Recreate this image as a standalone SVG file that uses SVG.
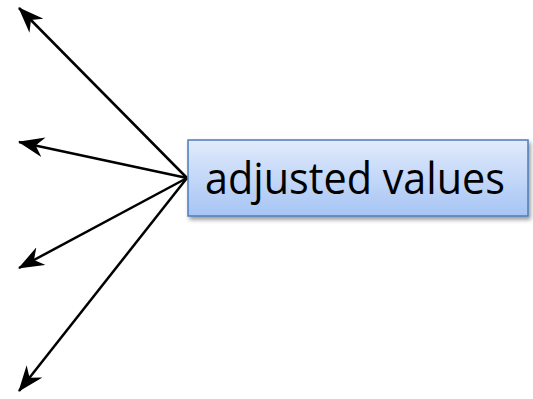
<svg xmlns="http://www.w3.org/2000/svg" width="533" height="399" viewBox="0 0 533 399">
<defs>
<linearGradient id="g" x1="0" y1="0" x2="0" y2="1">
<stop offset="0" stop-color="#e1ebfc"/>
<stop offset="1" stop-color="#a6c4f4"/>
</linearGradient>
<filter id="sh" x="-10%" y="-10%" width="130%" height="140%">
<feGaussianBlur in="SourceAlpha" stdDeviation="2"/>
<feOffset dx="2" dy="3"/>
<feComponentTransfer><feFuncA type="linear" slope="0.4"/></feComponentTransfer>
<feMerge><feMergeNode/><feMergeNode in="SourceGraphic"/></feMerge>
</filter>
<marker id="ah" viewBox="0 0 26 20" refX="25" refY="10" markerWidth="26" markerHeight="20" markerUnits="userSpaceOnUse" orient="auto">
<path d="M0,0 L26,10 L0,20 L8,10 z" fill="#000"/>
</marker>
</defs>
<style>
.c{stroke:#000;stroke-width:2.5;fill:none}
</style>
<g id="connectors">
<line class="c" x1="187" y1="178" x2="19" y2="8" marker-end="url(#ah)"/>
<line class="c" x1="187" y1="178" x2="19" y2="142" marker-end="url(#ah)"/>
<line class="c" x1="187" y1="178" x2="19" y2="268" marker-end="url(#ah)"/>
<line class="c" x1="187" y1="178" x2="19" y2="391" marker-end="url(#ah)"/>
</g>
<g id="node">
<rect x="188" y="140" width="340" height="76" fill="url(#g)" stroke="#4a7ebb" stroke-width="1.5" filter="url(#sh)"/>
<text x="205" y="194" font-family="Open Sans, Liberation Sans, sans-serif" font-size="44" textLength="300" lengthAdjust="spacingAndGlyphs" fill="#000">adjusted values</text>
</g>
</svg>
